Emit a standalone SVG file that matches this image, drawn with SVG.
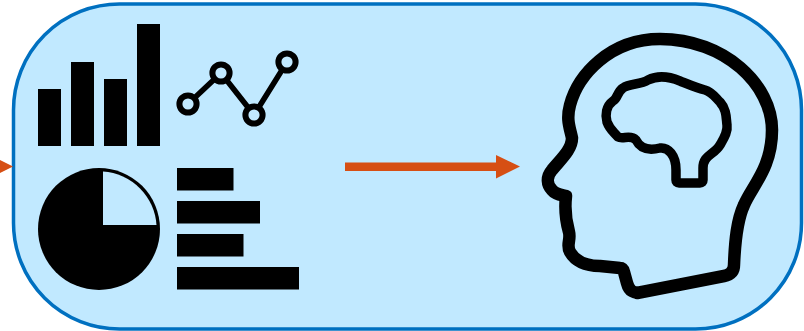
<svg xmlns="http://www.w3.org/2000/svg" width="804" height="331" viewBox="0 0 804 331">
<style>
.k{fill:#000}
.o{fill:#d64f14}
.s{fill:none;stroke:#000;stroke-linejoin:round;stroke-linecap:round}
.p{fill:#c1e9ff}
</style>
<rect width="804" height="331" fill="#fff"/>
<g id="panel"><rect x="13.500" y="4" width="788" height="325" rx="106" ry="106" class="p" stroke="#0070c0" stroke-width="3.500"/></g>
<g id="bar-chart" class="k">
<rect x="38" y="89" width="23" height="57"/><rect x="71" y="62" width="23" height="84"/><rect x="104" y="79" width="23" height="67"/><rect x="137" y="24" width="23" height="122"/>
</g>
<g id="line-chart">
<path class="s" stroke-width="5.500" d="M188 104L221 73L254 115L287 62"/>
<g class="p" stroke="#000" stroke-width="6"><circle cx="188" cy="104" r="8.600"/><circle cx="221" cy="73" r="8.600"/><circle cx="254" cy="115" r="8.600"/><circle cx="287" cy="62" r="8.600"/></g>
</g>
<g id="pie-chart">
<circle cx="99" cy="229" r="61" class="k"/>
<path class="p" d="M103 171.500A57.500 57.500 0 0 1 156.500 225H103Z"/>
</g>
<g id="hbar-chart" class="k">
<rect x="177" y="168" width="56.500" height="22.500"/><rect x="177" y="201" width="83" height="22.500"/><rect x="177" y="234" width="66.500" height="22.500"/><rect x="177" y="267" width="122" height="22.500"/>
</g>
<g id="head">
<path class="s" stroke-width="12.500" d="M637 293L724 276Q734 274 734 265C735 240 737 220 744 205C752 186 772 168 772 130C772 85 725 39 660 39C610 39 578 75 570 105C566 120 570 128 572 138C572 150 560 160 552 170C546 177 547 185 552 190C556 195 563 195 566 196C565 205 565 218 569 232C571 240 566 245 570 252C577 264 590 266 600 266L620 268Q623 268 624 272L627 283Q630 295 642 292Z"/>
<path class="s" stroke-width="9.500" d="M676 170V180Q676 183 679 183H700Q703 183 703 180V168C703 155 714 155 720 145C724 138 728 132 727 125C726 118 727 110 720 102C715 97 712 92 705 90C697 88 690 85 680 81C668 76 658 75 648 80C640 85 630 83 623 88C617 92 618 98 613 101C606 106 605 115 607 122C610 130 614 132 618 137C623 140 630 134 636 140C640 148 648 151 660 148C668 147 676 155 676 170Z"/>
</g>
<g id="connectors" class="o">
<path d="M345 162.500H496V155L520 166.500L496 178.500V171H345Z"/>
<path d="M0 160L13 166.500L0 173Z"/>
</g>
</svg>
